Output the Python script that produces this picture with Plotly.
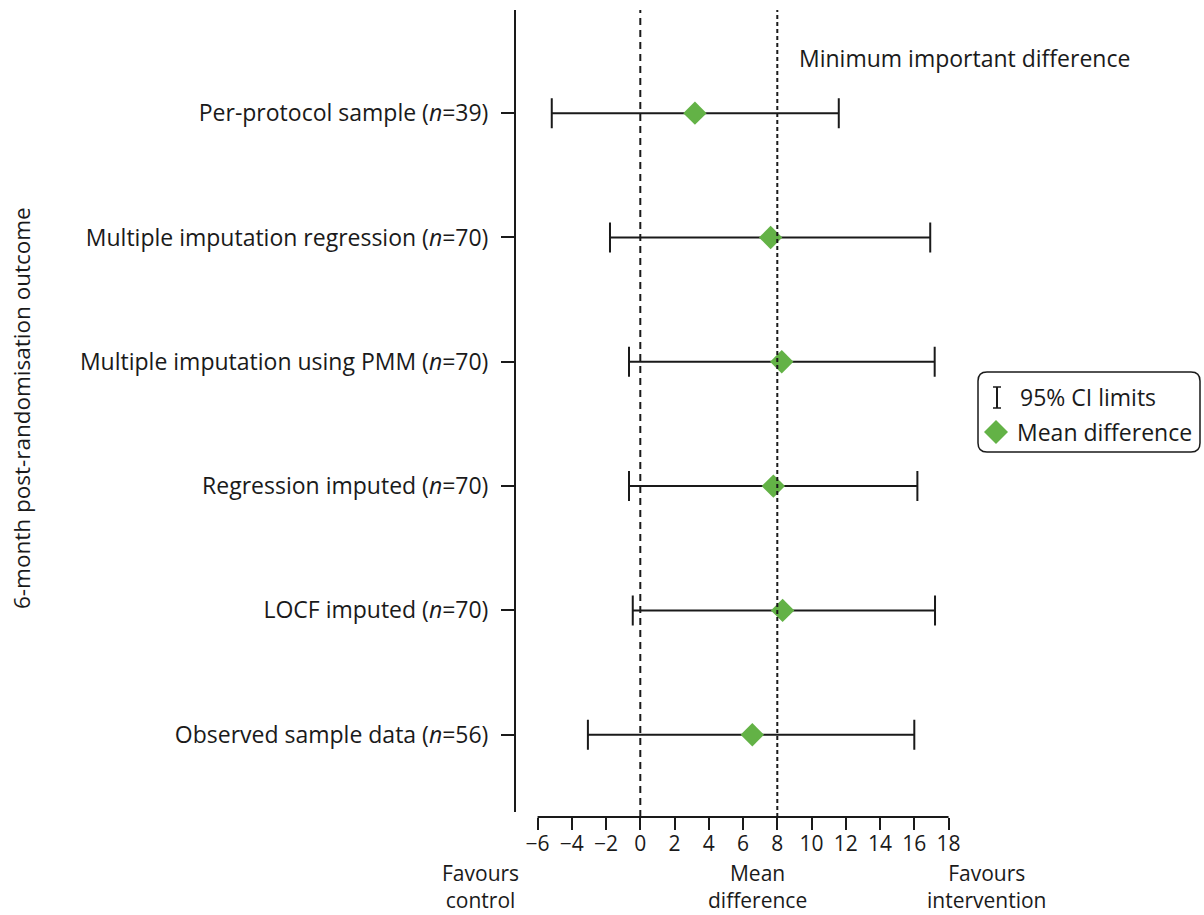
import plotly.graph_objects as go

# ---- data (top to bottom as shown) ----
labels = [
    "Per-protocol sample (<i>n</i>=39)",
    "Multiple imputation regression (<i>n</i>=70)",
    "Multiple imputation using PMM (<i>n</i>=70)",
    "Regression imputed (<i>n</i>=70)",
    "LOCF imputed (<i>n</i>=70)",
    "Observed sample data (<i>n</i>=56)",
]
mean_diff = [3.19, 7.61, 8.26, 7.77, 8.31, 6.54]
ci_low = [-5.17, -1.77, -0.66, -0.66, -0.44, -3.06]
ci_high = [11.59, 16.93, 17.19, 16.18, 17.21, 16.00]
x_ticks = [-6, -4, -2, 0, 2, 4, 6, 8, 10, 12, 14, 16, 18]
x_ticktext = [("\u2212" + str(-v)) if v < 0 else str(v) for v in x_ticks]
mid_value = 8  # minimum important difference

n = len(labels)
ypos = [n - 1 - i for i in range(n)]

FONT = "Open Sans"
GREEN = "#63b246"
BLACK = "#1a1a1a"

fig = go.Figure()
fig.add_trace(go.Scatter(
    x=mean_diff, y=ypos, mode="markers",
    marker=dict(symbol="diamond", size=18, color=GREEN, line=dict(width=0)),
    error_x=dict(type="data", symmetric=False,
                 array=[h - m for h, m in zip(ci_high, mean_diff)],
                 arrayminus=[m - l for m, l in zip(mean_diff, ci_low)],
                 color=BLACK, thickness=2, width=15),
    showlegend=False, hoverinfo="skip",
))

# plot area in pixels: x 515..960, y 10..817
L, R, T, B = 515, 244, 10, 98
W = 1204 - L - R
H = 915 - T - B
def px(p):
    return (p - L) / W
def py(p):
    return (915 - B - p) / H

scale = 17.125
x0px = 640.3
xr = [(515 - x0px) / scale, (960 - x0px) / scale]
yr = [-0.662, 5.830]

shapes = []
# y axis line
shapes.append(dict(type="line", xref="paper", yref="paper", x0=0, x1=0, y0=py(812), y1=1,
                   line=dict(color=BLACK, width=2)))
# x axis line (from -6 to 18)
shapes.append(dict(type="line", xref="x", yref="paper", x0=x_ticks[0], x1=x_ticks[-1], y0=0, y1=0,
                   line=dict(color=BLACK, width=2)))
# reference lines
shapes.append(dict(type="line", xref="x", yref="paper", x0=0, x1=0, y0=0, y1=1,
                   line=dict(color=BLACK, width=2, dash="7px,5px")))
shapes.append(dict(type="line", xref="x", yref="paper", x0=mid_value, x1=mid_value, y0=0, y1=1,
                   line=dict(color=BLACK, width=2, dash="4px,3px")))

# legend box with rounded corners
bx0, bx1, by0, by1 = px(978), px(1200), py(372), py(452)
rx, ry = 9 / W, 9 / H
path = (f"M {bx0+rx},{by0} L {bx1-rx},{by0} Q {bx1},{by0} {bx1},{by0-ry} "
        f"L {bx1},{by1+ry} Q {bx1},{by1} {bx1-rx},{by1} "
        f"L {bx0+rx},{by1} Q {bx0},{by1} {bx0},{by1+ry} "
        f"L {bx0},{by0-ry} Q {bx0},{by0} {bx0+rx},{by0} Z")
shapes.append(dict(type="path", xref="paper", yref="paper", path=path,
                   line=dict(color=BLACK, width=1.5), fillcolor="white", layer="below"))
# I-beam symbol
ix = 997
shapes.append(dict(type="line", xref="paper", yref="paper", x0=px(ix), x1=px(ix), y0=py(387), y1=py(408),
                   line=dict(color=BLACK, width=2)))
for yy in (387, 408):
    shapes.append(dict(type="line", xref="paper", yref="paper", x0=px(ix - 4), x1=px(ix + 4), y0=py(yy), y1=py(yy),
                       line=dict(color=BLACK, width=1.5)))
# diamond symbol
dcx, dcy, dr = 996, 432, 12
dpath = (f"M {px(dcx)},{py(dcy-dr)} L {px(dcx+dr)},{py(dcy)} L {px(dcx)},{py(dcy+dr)} "
         f"L {px(dcx-dr)},{py(dcy)} Z")
shapes.append(dict(type="path", xref="paper", yref="paper", path=dpath,
                   line=dict(width=0), fillcolor=GREEN))

fs = 23
def ann(text, x, y, xanchor="left", yanchor="middle", size=fs, **kw):
    return dict(text=text, x=px(x), y=py(y), xref="paper", yref="paper",
                xanchor=xanchor, yanchor=yanchor, showarrow=False,
                font=dict(size=size, color=BLACK, family=FONT), **kw)

annotations = [
    ann("95% CI limits", 1018, 397),
    ann("Mean difference", 1015, 432),
    ann("Minimum important difference", 797, 58),
    ann("6-month post-randomisation outcome", 21, 408, xanchor="center", size=22.5, textangle=-90),
    ann("Favours<br>control", 480, 916, xanchor="center", yanchor="bottom", size=21),
    ann("Mean<br>difference", 757, 916, xanchor="center", yanchor="bottom", size=21),
    ann("Favours<br>intervention", 987, 916, xanchor="center", yanchor="bottom", size=21),
]

fig.update_layout(
    width=1204, height=915,
    margin=dict(l=L, r=R, t=T, b=B, pad=0),
    paper_bgcolor="white", plot_bgcolor="white",
    font=dict(family=FONT, size=fs, color=BLACK),
    shapes=shapes, annotations=annotations,
    showlegend=False,
    xaxis=dict(range=xr, tickmode="array", tickvals=x_ticks, ticktext=x_ticktext,
               ticks="outside", ticklen=12, tickwidth=2, tickcolor=BLACK,
               ticklabelstandoff=-4,
               showgrid=False, zeroline=False, showline=False,
               tickfont=dict(size=21, family=FONT, color=BLACK), fixedrange=True),
    yaxis=dict(range=yr, tickmode="array", tickvals=ypos, ticktext=labels,
               ticks="outside", ticklen=13, tickwidth=2, tickcolor=BLACK,
               ticklabelstandoff=8,
               showgrid=False, zeroline=False, showline=False,
               tickfont=dict(size=fs, family=FONT, color=BLACK), fixedrange=True),
)

fig.write_html("out.html")
